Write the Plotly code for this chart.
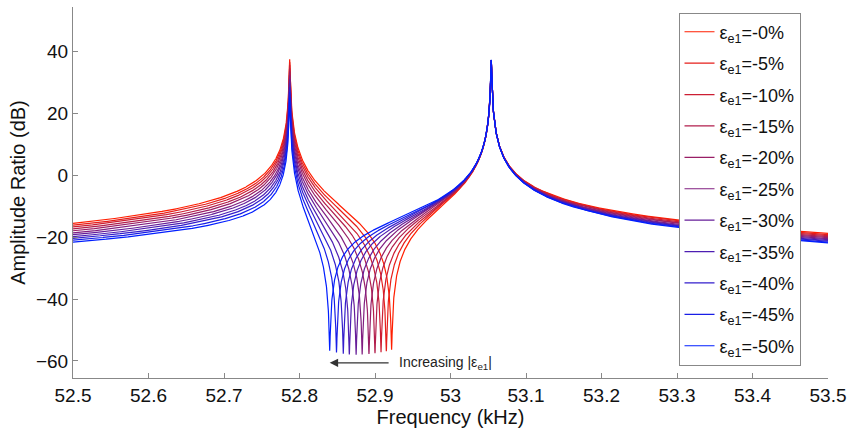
import numpy as np
import plotly.graph_objects as go

# strain levels shown in the legend (percent, negative sign in labels)
strain_pct = [0, 5, 10, 15, 20, 25, 30, 35, 40, 45, 50]
# anti-resonance (dip) frequency of each curve (kHz)
dip_freq = [52.922, 52.915, 52.908, 52.900, 52.892, 52.883,
            52.875, 52.866, 52.858, 52.849, 52.840]
# the two resonance peaks (kHz), common to all curves
peak_freq = [52.787, 53.054]
peak_db = 37.5          # height of the 0% curve at the first peak
left_tail_db = -15.5    # 0% curve at 52.5 kHz

x_ticks = [52.5, 52.6, 52.7, 52.8, 52.9, 53.0, 53.1, 53.2, 53.3, 53.4, 53.5]
x_tick_text = ['52.5', '52.6', '52.7', '52.8', '52.9', '53', '53.1',
               '53.2', '53.3', '53.4', '53.5']
y_ticks = [-60, -40, -20, 0, 20, 40]

f1, f2 = peak_freq
freq = np.arange(52.5, 53.5 + 1e-9, 0.0002)


def modal_weights(fz):
    # weight of the first mode relative to the second puts the zero at fz
    return (fz - f1) / (f2 - fz), 1.0


# scale and damping from the 0% curve
w1, w2 = modal_weights(dip_freq[0])
gain = 10 ** (left_tail_db / 20) / abs(w1 / (52.5 - f1) + w2 / (52.5 - f2))
damp = gain * w1 / 10 ** (peak_db / 20)

fig = go.Figure()
n = len(strain_pct)
for i, (s, fz) in enumerate(zip(strain_pct, dip_freq)):
    w1, w2 = modal_weights(fz)
    h = gain * (w1 / (freq - f1 + 1j * damp) + w2 / (freq - f2 + 1j * damp))
    t = i / (n - 1)
    col = 'rgb(%d,30,%d)' % (round(255 * (1 - t)), round(255 * t))
    fig.add_trace(go.Scatter(
        x=freq, y=20 * np.log10(np.abs(h)), mode='lines',
        line=dict(color=col, width=1.2),
        name='ε<sub>e1</sub>=-%d%%' % s, legendgroup=str(i)))

font = 'Liberation Sans, Arial, sans-serif'
fig.add_annotation(x=dip_freq[-1], y=-60.6, ax=52.92, ay=-60.6,
                   xref='x', yref='y', axref='x', ayref='y',
                   showarrow=True, arrowhead=2, arrowsize=1.4, arrowwidth=1.2,
                   arrowcolor='#333333', text='')
fig.add_annotation(x=52.929, y=-60.6, xref='x', yref='y', showarrow=False,
                   xanchor='left', text='Increasing |ε<sub>e1</sub>|',
                   font=dict(family=font, size=14, color='#222222'))

fig.update_layout(
    width=851, height=432,
    margin=dict(l=73, r=23, t=7, b=54, autoexpand=False),
    plot_bgcolor='white', paper_bgcolor='white',
    font=dict(family=font, size=19, color='#111111'),
    legend=dict(x=0.802, y=0.985, xanchor='left', yanchor='top',
                bgcolor='white', bordercolor='#888888', borderwidth=1,
                font=dict(size=18), tracegroupgap=5),
    showlegend=True,
)
fig.update_xaxes(range=[52.5, 53.5], tickvals=x_ticks, ticktext=x_tick_text,
                 ticks='inside', ticklen=5, tickcolor='#888888',
                 showline=True, linecolor='#888888', linewidth=1,
                 showgrid=False, zeroline=False,
                 title=dict(text='Frequency (kHz)', font=dict(size=20), standoff=0))
fig.update_yaxes(range=[-65.5, 54.4], tickvals=y_ticks,
                 ticks='inside', ticklen=5, tickcolor='#888888',
                 showline=True, linecolor='#888888', linewidth=1,
                 showgrid=False, zeroline=False,
                 title=dict(text='Amplitude Ratio (dB)', font=dict(size=20), standoff=4))

fig.write_html("out.html", config={'displayModeBar': False},
               post_script="document.body.style.margin='0';")
